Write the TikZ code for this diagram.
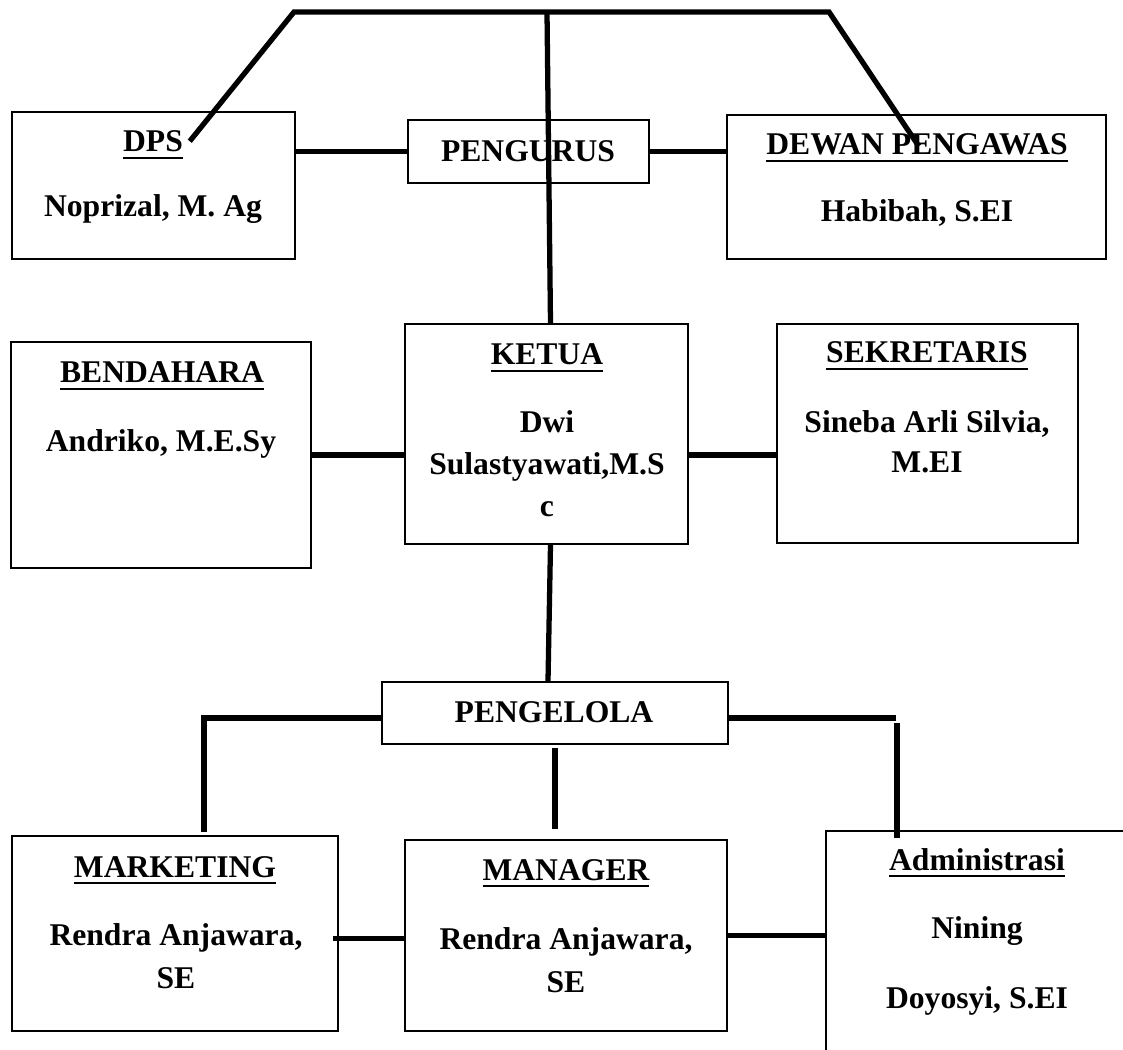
\documentclass[tikz,border=0pt]{standalone}
\usepackage{fontspec}
\setmainfont{Liberation Serif}

\newcommand{\hdline}[1]{\setbox0=\hbox{#1}\rlap{\rule[-4.15pt]{\wd0}{1.5pt}}\box0}

\begin{document}
\begin{tikzpicture}[x=0.02cm, y=-0.02cm,
    box/.style={rectangle, draw, line width=0.9pt, inner sep=0pt},
    txt/.style={anchor=base, inner sep=0pt, align=center, font=\bfseries\fontsize{18}{24}\selectfont},
    link/.style={line width=3pt}]

    \useasboundingbox (0,0) rectangle (1123,1050);
    \clip (0,0) rectangle (1123,1050);

    % Draw nodes
    \node[box, minimum width=5.66cm, minimum height=2.94cm] (dps) at (153.5,185.5) {};
    \node[box, minimum width=4.82cm, minimum height=1.26cm] (pengurus) at (528.5,151.5) {};
    \node[box, minimum width=7.58cm, minimum height=2.88cm] (dewan) at (916.5,187) {};
    \node[box, minimum width=6.00cm, minimum height=4.52cm] (bendahara) at (161,455) {};
    \node[box, minimum width=5.66cm, minimum height=4.40cm] (ketua) at (546.5,434) {};
    \node[box, minimum width=6.02cm, minimum height=4.38cm] (sekretaris) at (927.5,433.5) {};
    \node[box, minimum width=6.92cm, minimum height=1.24cm] (pengelola) at (555,713) {};
    \node[box, minimum width=6.52cm, minimum height=3.90cm] (marketing) at (175,933.5) {};
    \node[box, minimum width=6.44cm, minimum height=3.82cm] (manager) at (566,935.5) {};
    \node[box, minimum width=6.28cm, minimum height=4.78cm] (admin) at (983,950.5) {};

    % Draw connections
    \coordinate (topL) at (294,12);
    \coordinate (topM) at (547,12);
    \coordinate (topR) at (829,12);
    \draw[link] ([shift={(-106,30)}]dps.north east) -- (topL) -- (topR) -- ([shift={(-188,32)}]dewan.north east);
    \draw[link] (topM) -- ([shift={(4,0)}]ketua.north);
    \draw[link] (dps.east |- pengurus.west) -- (pengurus.west);
    \draw[link] (pengurus.east) -- (pengurus.east -| dewan.west);
    \draw[link] (bendahara.east) -- (bendahara.east -| ketua.west);
    \draw[link] (bendahara.east -| ketua.east) -- (bendahara.east -| sekretaris.west);
    \draw[link] ([shift={(4,0)}]ketua.south) -- ([shift={(-7,0)}]pengelola.north);
    \draw[link] ([shift={(0,5)}]pengelola.west) -| ([shift={(29,-3)}]marketing.north);
    \coordinate (adminknee) at (896,718);
    \draw[link] ([shift={(0,5)}]pengelola.east) -- (adminknee);
    \draw[link] ([shift={(1,5)}]adminknee) -- ([shift={(-86,8)}]admin.north);
    \draw[link] ([shift={(0,3)}]pengelola.south) -- ([shift={(-11,-10)}]manager.north);
    \draw[link] ([shift={(-6,5)}]marketing.east) -- ([shift={(0,3)}]manager.west);
    \draw[link] (manager.east) -- (manager.east -| admin.west);

    % Labels (a body node sits on the baseline of its last line)
    \node[txt] (dps-t) at (153,152) {\hdline{DPS}};
    \node[txt] (dps-n) at (153,217) {Noprizal, M. Ag};
    \node[txt] (pengurus-t) at (528,162) {PENGURUS};
    \node[txt] (dewan-t) at (917,155) {\hdline{DEWAN PENGAWAS}};
    \node[txt] (dewan-n) at (917,222) {Habibah, S.EI};
    \node[txt] (bendahara-t) at (162,383) {\hdline{BENDAHARA}};
    \node[txt] (bendahara-n) at (161,452) {Andriko, M.E.Sy};
    \node[txt] (ketua-t) at (547,365) {\hdline{KETUA}};
    \node[txt] (ketua-n) at (547,517) {Dwi\\Sulastyawati,M.S\\c};
    \node[txt] (sekretaris-t) at (927,363) {\hdline{SEKRETARIS}};
    \node[txt] (sekretaris-n) at (927,473) {Sineba Arli Silvia,\\[-1.1pt]M.EI};
    \node[txt] (pengelola-t) at (554,723) {PENGELOLA};
    \node[txt] (marketing-t) at (175,877) {\hdline{MARKETING}};
    \node[txt] (marketing-n) at (176,988) {Rendra Anjawara,\\SE};
    \node[txt] (manager-t) at (566,880) {\hdline{MANAGER}};
    \node[txt] (manager-n) at (566,992) {Rendra Anjawara,\\SE};
    \node[txt] (admin-t) at (977,870) {\hdline{Administrasi}};
    \node[txt] (admin-n) at (977,1008) {Nining\\[15.8pt]Doyosyi, S.EI};
\end{tikzpicture}
\end{document}
